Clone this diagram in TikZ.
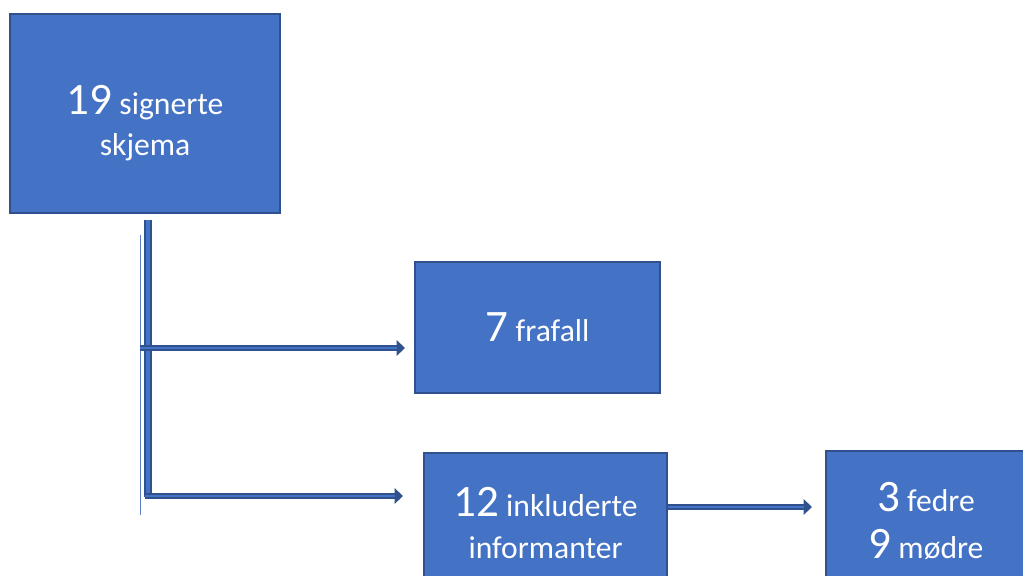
\documentclass[tikz,border=0pt]{standalone}
\usepackage{fontspec}
\setmainfont{Carlito}
\usetikzlibrary{arrows.meta}

\definecolor{boxblue}{HTML}{4472C4}
\definecolor{boxedge}{HTML}{2F528F}
\definecolor{guide}{HTML}{5B7FC8}

\newcommand{\nbr}[1]{{\fontsize{32}{38}\selectfont #1}}

\tikzset{
  box/.style={rectangle, fill=boxblue, draw=boxedge, line width=1.2pt,
    text=white, align=center, inner sep=0pt,
    font=\fontsize{22.5}{29.5}\selectfont},
  flow/.style={draw=boxedge, line width=4.6pt,
    -{Triangle[length=6pt,width=11pt]},
    postaction={draw=boxblue, line width=1.8pt, -, shorten >=6pt}},
  trunk/.style={draw=boxedge, line width=6pt,
    postaction={draw=boxblue, line width=2.8pt}}
}

\begin{document}
\begin{tikzpicture}
    \useasboundingbox (0,0) rectangle (25.575,-14.375);
    % boxes
    \node[box, minimum width=6.75cm, minimum height=4.975cm] (signed) at (3.625,-2.84)
      {\rule{0pt}{34pt}\nbr{19} signerte\\skjema};
    \node[box, minimum width=6.125cm, minimum height=3.275cm] (dropout) at (13.44,-8.19)
      {\nbr{7} frafall};
    \node[box, minimum width=6.075cm, minimum height=3.5cm] (included) at (13.64,-13.075)
      {\nbr{12} inkluderte\\informanter};
    \node[box, minimum width=5cm, minimum height=3.5cm] (parents) at (23.15,-13.025)
      {\rule{0pt}{20pt}\nbr{3} fedre\\[4pt]\nbr{9} mødre};
    % trunk and branches
    \coordinate (top) at (3.7,-5.5);
    \coordinate (bottom) at (3.7,-12.425);
    \coordinate (split) at (3.5,-8.7);
    \coordinate (toDrop) at (10.125,-8.7);
    \coordinate (corner) at (3.625,-12.4);
    \coordinate (toIncl) at (10.075,-12.4);
    \coordinate (toPar) at (20.3,-12.675);
    \draw[guide, line width=0.6pt] (3.5,-5.875) -- (3.5,-12.875);
    \draw[trunk] (top) -- (bottom);
    \draw[flow] (split) -- (toDrop);
    \draw[flow] (corner) -- (toIncl);
    \draw[flow] (included.east |- toPar) -- (toPar);
\end{tikzpicture}
\end{document}
